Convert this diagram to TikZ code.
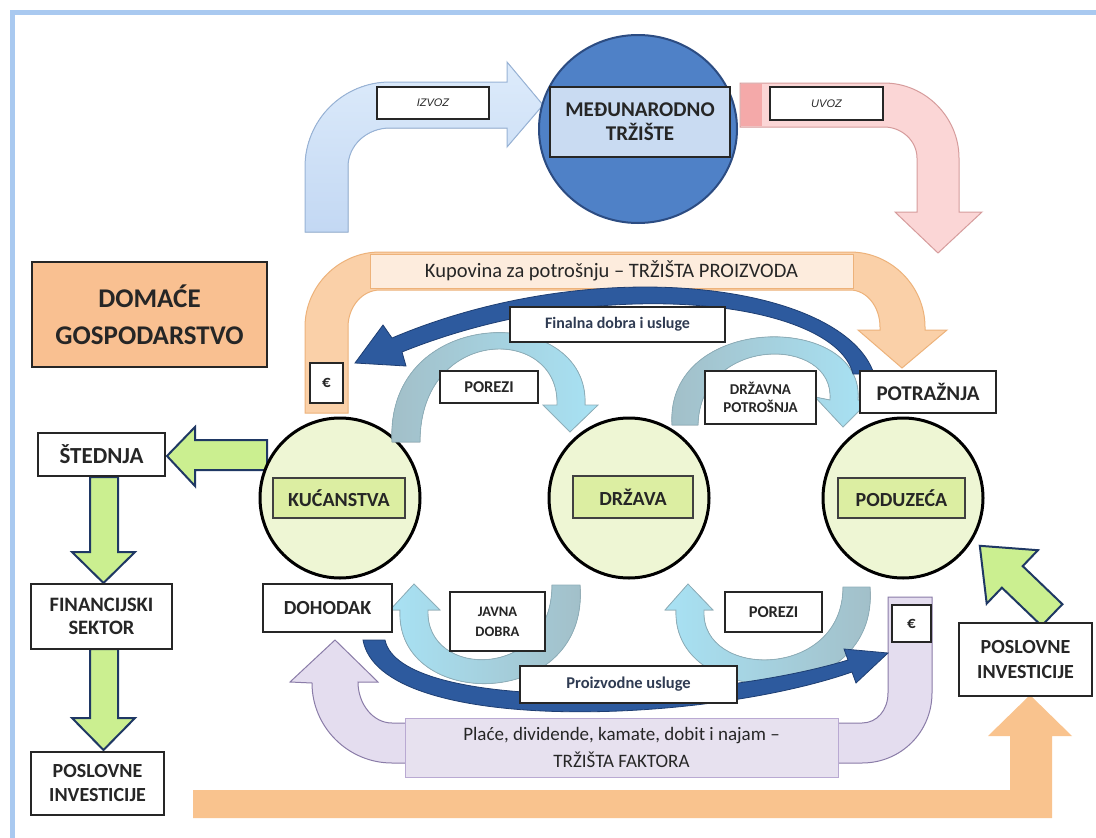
\documentclass[tikz,border=0pt]{standalone}
\usepackage{fontspec}
\setmainfont{Carlito}
\newfontfamily\arialf{Liberation Sans}
\usetikzlibrary{shapes.geometric}
\newcommand\fsz[2]{\fontsize{#1}{#2}\selectfont}
\definecolor{framec}{HTML}{A9C9F0}
\definecolor{orL}{HTML}{F9C38E}
\definecolor{purp}{HTML}{E4DDEF}
\definecolor{purpd}{HTML}{8A7CA8}
\definecolor{purpbox}{HTML}{E7E1EF}
\definecolor{purpl}{HTML}{B9A9D2}
\definecolor{blu1}{HTML}{DDEBFB}
\definecolor{blu2}{HTML}{C3D8F3}
\definecolor{blud}{HTML}{98B3D6}
\definecolor{pnk}{HTML}{FBD6D6}
\definecolor{pnk2}{HTML}{F4A9A9}
\definecolor{pnkd}{HTML}{D69C9C}
\definecolor{mtc}{HTML}{4F81C7}
\definecolor{mtd}{HTML}{2C4C82}
\definecolor{mtrect}{HTML}{C9DBF2}
\definecolor{orT}{HTML}{FAD0A8}
\definecolor{orTd}{HTML}{EDB27A}
\definecolor{orTl}{HTML}{FDECDD}
\definecolor{domc}{HTML}{F9C091}
\definecolor{grn}{HTML}{CBEF90}
\definecolor{navy}{HTML}{1F3864}
\definecolor{circg}{HTML}{EEF6D4}
\definecolor{rectg}{HTML}{DCEEA2}
\definecolor{tealg}{HTML}{A2BEC7}
\definecolor{cyanl}{HTML}{A8E2F4}
\definecolor{teald}{HTML}{8EAFBA}
\definecolor{dblue}{HTML}{2D5A9E}
\definecolor{dblued}{HTML}{1E3E72}
\definecolor{txt}{HTML}{262626}
\definecolor{txtb}{HTML}{2F3B52}
\begin{document}
\begin{tikzpicture}[x=1pt,y=-1pt,
  lbox/.style={draw=black!85, line width=1.4pt, fill=white, inner sep=0pt, align=center, text=txt},
  garrow/.style={fill=grn, draw=navy, line width=2pt, line join=miter},
  innr/.style={draw=black!75, line width=1.4pt, fill=rectg, inner sep=0pt, text=txt, font=\fsz{20}{23}\bfseries},
  circ/.style={circle, draw=black, line width=3pt, fill=circg, minimum size=160pt, inner sep=0pt},
  arch/.style={draw=teald, line width=0.8pt},
]
\useasboundingbox (0,0) rectangle (1096,838);
\fill[white] (0,0) rectangle (1096,838);
% frame
\draw[framec, line width=5pt] (10,12) -- (1096,12);
\draw[framec, line width=5pt] (12,10) -- (12,838);

% bottom orange L arrow
\fill[orL] (193,790) -- (1010,790) -- (1010,736) -- (988,736) -- (1030,695) -- (1072,736) -- (1052,736) -- (1052,818) -- (193,818) -- cycle;

% purple arrow
\filldraw[fill=purp, draw=purpd, line width=1pt] (932,597) -- (932,693) .. controls (932,732) and (901,763) .. (862,763) -- (392,763) .. controls (348,763) and (312,727) .. (312,683) -- (290,682) -- (335,640) -- (378,682) -- (358,682) .. controls (358,704) and (373,723) .. (392,723) -- (862,723) .. controls (877,723) and (888,710) .. (888,693) -- (888,597) -- cycle;
\node[draw=purpl, line width=1pt, fill=purpbox, minimum width=433pt, minimum height=59pt, inner sep=0pt, align=center, text=txt, font=\fsz{19}{27}] (fak) at (621.5,747.5) {Plaće, dividende, kamate, dobit i najam –\\TRŽIŠTA FAKTORA};

% IZVOZ arrow
\filldraw[top color=blu1, bottom color=blu2, draw=blud, line width=1pt] (305,232) -- (305,167) .. controls (305,120) and (343,82) .. (390,82) -- (507,82) -- (507,62) -- (543,105) -- (507,147) -- (507,128) -- (390,128) .. controls (367,128) and (348,145) .. (348,167) -- (348,232) -- cycle;
% UVOZ arrow
\filldraw[fill=pnk, draw=pnkd, line width=1pt] (740,83) -- (884,83) .. controls (925,83) and (959,117) .. (959,158) -- (959,212) -- (982,212) -- (938,253) -- (895,212) -- (917,212) -- (917,158) .. controls (917,141) and (902,127) .. (884,127) -- (740,127) -- cycle;
\fill[pnk2] (741,84) rectangle (762,126);

% international market
\node[ellipse, draw=mtd, line width=2pt, fill=mtc, minimum width=198pt, minimum height=188pt] (mt) at (638,129) {};
\node[draw=black!85, line width=1.4pt, fill=mtrect, minimum width=180pt, minimum height=70pt, inner sep=0pt, align=center, text=txt, font=\fsz{21}{24}\bfseries] (mtr) at (640,122) {MEĐUNARODNO\\TRŽIŠTE};
\node[lbox, minimum width=112pt, minimum height=32pt, font=\arialf\itshape\fsz{11}{13}] (izvoz) at (433,103) {IZVOZ};
\node[lbox, minimum width=113pt, minimum height=33pt, font=\arialf\itshape\fsz{11}{13}] (uvoz) at (826.5,103.5) {UVOZ};

% top orange arrow (Kupovina)
\filldraw[fill=orT, draw=orTd, line width=1pt] (305,413) -- (305,327) .. controls (305,286) and (339,252) .. (380,252) -- (850,252) .. controls (891,252) and (925,286) .. (925,327) -- (925,330) -- (947,330) -- (902,368) -- (858,330) -- (880,330) -- (880,327) .. controls (880,307) and (867,290) .. (850,290) -- (380,290) .. controls (362,290) and (348,307) .. (348,327) -- (348,413) -- cycle;
\node[draw=orTd, line width=0.8pt, fill=orTl, minimum width=483pt, minimum height=34pt, inner sep=0pt, text=txt, font=\fsz{20.5}{22}] (kup) at (611.5,271) {Kupovina za potrošnju – TRŽIŠTA PROIZVODA};

% domestic economy
\node[draw=black!85, line width=1.6pt, fill=domc, minimum width=235pt, minimum height=105pt, inner sep=0pt, align=center, text=txt, font=\fsz{27}{37}\bfseries] (dom) at (149.5,314.5) {DOMAĆE\\GOSPODARSTVO};

% green arrows left
\filldraw[garrow] (267,440) -- (195,440) -- (195,427) -- (167,456) -- (195,486) -- (195,470) -- (267,470) -- cycle;
\filldraw[garrow] (90,477) -- (118,477) -- (118,552) -- (135,552) -- (103.5,583) -- (72,552) -- (90,552) -- cycle;
\filldraw[garrow] (90,649) -- (118,649) -- (118,718) -- (135,718) -- (103.5,750) -- (72,718) -- (90,718) -- cycle;
% green arrow right
\filldraw[garrow] (1062.4,604.2) -- (1022.7,566.1) -- (1037.9,550.2) -- (979.8,545.8) -- (986.7,603.6) -- (1001.9,587.7) -- (1041.6,625.8) -- cycle;

% circles
\node[circ] (kuc) at (340,498) {};
\node[circ] (drz) at (629,498) {};
\node[circ] (pod) at (903,498) {};
\node[innr, minimum width=132pt, minimum height=40pt] (kucr) at (339,498) {KUĆANSTVA};
\node[innr, minimum width=120pt, minimum height=42pt] (drzr) at (633,497) {DRŽAVA};
\node[innr, minimum width=127pt, minimum height=40pt] (podr) at (901.5,498) {PODUZEĆA};

% arches
\filldraw[arch, left color=tealg, right color=cyanl] (392,442) .. controls (385,303) and (590,303) .. (585,405) -- (598,405) -- (570,432) -- (543,405) -- (557,405) .. controls (560,325) and (420,325) .. (420,442) -- cycle;
\filldraw[arch, left color=tealg, right color=cyanl] (672,425) .. controls (665,312) and (865,312) .. (858,400) -- (868,402) -- (843,427) -- (815,397) -- (830,400) .. controls (835,335) and (700,335) .. (698,425) -- cycle;
\filldraw[arch, left color=cyanl, right color=tealg] (580,585) .. controls (590,712) and (395,712) .. (400,610) -- (390,610) -- (414,584) -- (440,610) -- (428,610) .. controls (425,680) and (552,680) .. (552,585) -- cycle;
\filldraw[arch, left color=cyanl, right color=tealg] (870,587) .. controls (880,712) and (672,712) .. (676,610) -- (665,610) -- (688,584) -- (713,610) -- (704,610) .. controls (700,680) and (843,680) .. (843,587) -- cycle;

% dark blue arrows
\filldraw[fill=dblue, draw=dblued, line width=0.8pt] (874,374) .. controls (845,285) and (600,250) .. (392,338) -- (383,325) -- (355,363) -- (406,366) -- (402,352) .. controls (600,272) and (835,300) .. (853,374) -- cycle;
\filldraw[fill=dblue, draw=dblued, line width=0.8pt] (363,640) .. controls (380,735) and (700,725) .. (852,672) -- (856,683) -- (888,653) -- (844,649) -- (848,660) .. controls (700,705) and (400,712) .. (385,640) -- cycle;

% label boxes
\node[lbox, minimum width=33pt, minimum height=40pt, font=\fsz{17}{18}\bfseries] (eurL) at (326.5,383) {€};
\node[lbox, minimum width=39pt, minimum height=37pt, font=\fsz{17}{18}\bfseries] (eurR) at (911.5,623.5) {€};
\node[lbox, minimum width=215pt, minimum height=35pt, text=txtb, font=\fsz{16}{18}\bfseries] (fin) at (617.5,324.5) {Finalna dobra i usluge};
\node[lbox, minimum width=98pt, minimum height=32pt, font=\fsz{16.5}{18}\bfseries] (porT) at (489,387) {POREZI};
\node[lbox, minimum width=111pt, minimum height=53pt, font=\fsz{15}{18}\bfseries] (dpot) at (760.5,397.5) {DRŽAVNA\\POTROŠNJA};
\node[lbox, minimum width=136pt, minimum height=42pt, font=\fsz{21}{22}\bfseries] (potr) at (928,392) {POTRAŽNJA};
\node[lbox, minimum width=127pt, minimum height=43pt, font=\fsz{23}{26}\bfseries] (sted) at (101.5,454.5) {ŠTEDNJA};
\node[lbox, minimum width=141pt, minimum height=65pt, font=\fsz{20.5}{23}\bfseries] (fsek) at (101.5,616.5) {FINANCIJSKI\\SEKTOR};
\node[lbox, minimum width=133pt, minimum height=63pt, font=\fsz{20}{24}\bfseries] (posL) at (97.5,783.5) {POSLOVNE\\INVESTICIJE};
\node[lbox, minimum width=129pt, minimum height=48pt, font=\fsz{20}{22}\bfseries] (doh) at (327.5,608) {DOHODAK};
\node[lbox, minimum width=95pt, minimum height=59pt, font=\fsz{14.5}{20}\bfseries] (jav) at (497.5,621.5) {JAVNA\\DOBRA};
\node[lbox, minimum width=97pt, minimum height=40pt, font=\fsz{16.5}{18}\bfseries] (porB) at (773.5,612) {POREZI};
\node[lbox, minimum width=217pt, minimum height=37pt, text=txtb, font=\fsz{16.5}{18}\bfseries] (pro) at (628.5,684.5) {Proizvodne usluge};
\node[lbox, minimum width=133pt, minimum height=73pt, font=\fsz{20}{25}\bfseries] (posR) at (1025.5,659.5) {POSLOVNE\\INVESTICIJE};
\end{tikzpicture}
\end{document}
